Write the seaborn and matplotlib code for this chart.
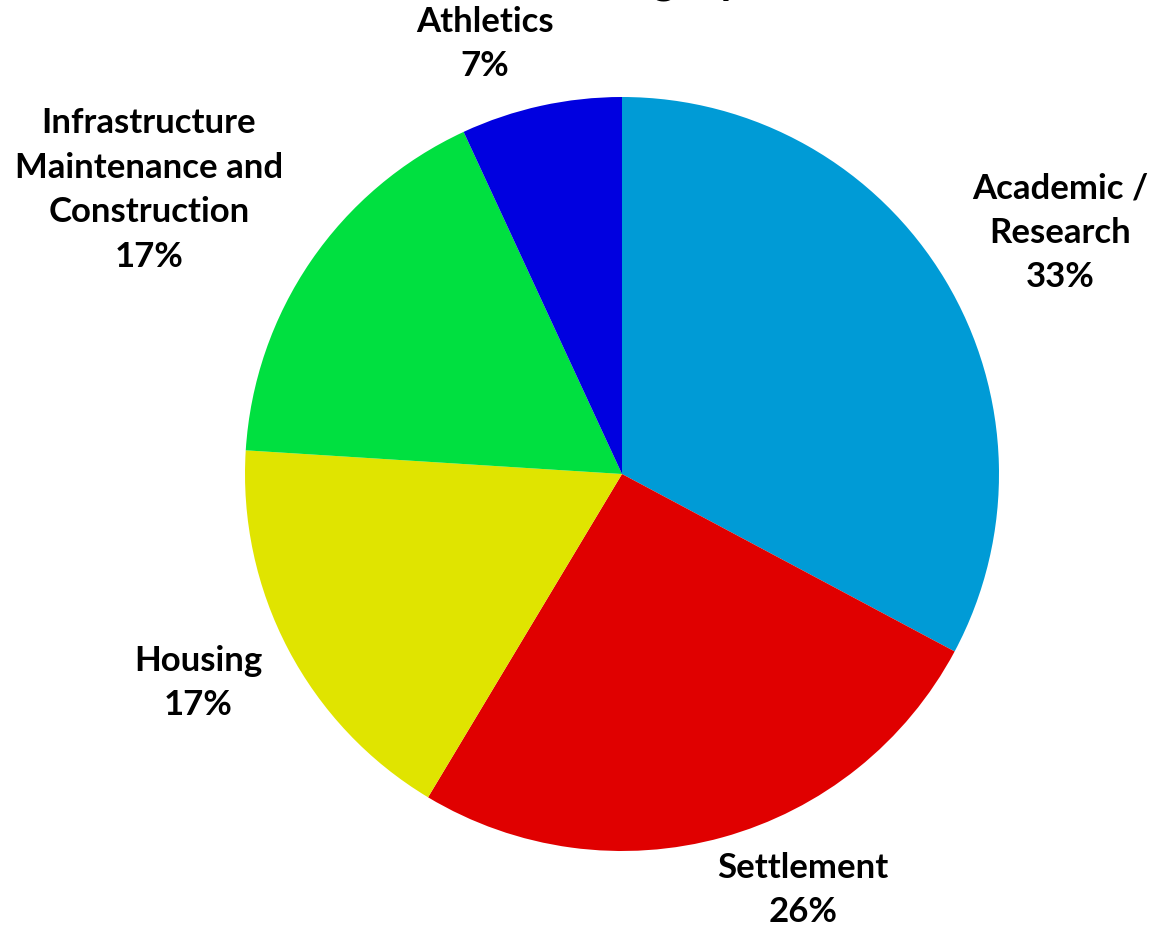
import matplotlib
matplotlib.use("Agg")
import matplotlib.pyplot as plt
import seaborn as sns

categories = ["Academic /\nResearch", "Settlement", "Housing",
              "Infrastructure\nMaintenance and\nConstruction", "Athletics"]
shares = [32.8, 25.8, 17.4, 17.1, 6.9]
colors = ["#009BD6", "#E00000", "#E0E400", "#00E040", "#0000E0"]
title_text = "Category"

sns.set_theme(style="white")
plt.rcParams["font.family"] = ["Lato", "DejaVu Sans"]

W, H, DPI = 1149, 929, 100
fig = plt.figure(figsize=(W / DPI, H / DPI), dpi=DPI)
ax = fig.add_axes([0, 0, 1, 1])

cx, cy, R = 622, 475, 377  # pixel layout of pie
ax.pie(shares, colors=sns.color_palette(colors), startangle=90, counterclock=False,
       radius=1, center=(0, 0), wedgeprops=dict(linewidth=0))
ax.set_aspect("auto")
ax.set_xlim((0 - cx) / R, (W - cx) / R)
ax.set_ylim((cy - H) / R, cy / R)
ax.axis("off")

def px(x, y):
    return (x - cx) / R, (cy - y) / R

# label centres in pixel layout
label_pos = [(1060, 233), (803, 890), (198, 683), (149, 190), (485, 44)]
for cat, v, (lx, ly) in zip(categories, shares, label_pos):
    x, y = px(lx, ly)
    ax.text(x, y, f"{cat}\n{round(v)}%", ha="center", va="center",
            fontsize=25, fontweight="bold", color="black", linespacing=1.48)

tx, ty = px(560, -6)
ax.text(tx, ty, title_text, ha="left", va="baseline", fontsize=32,
        fontweight="bold", color="black", clip_on=False)

fig.savefig("out.png", dpi=DPI, facecolor="white")
